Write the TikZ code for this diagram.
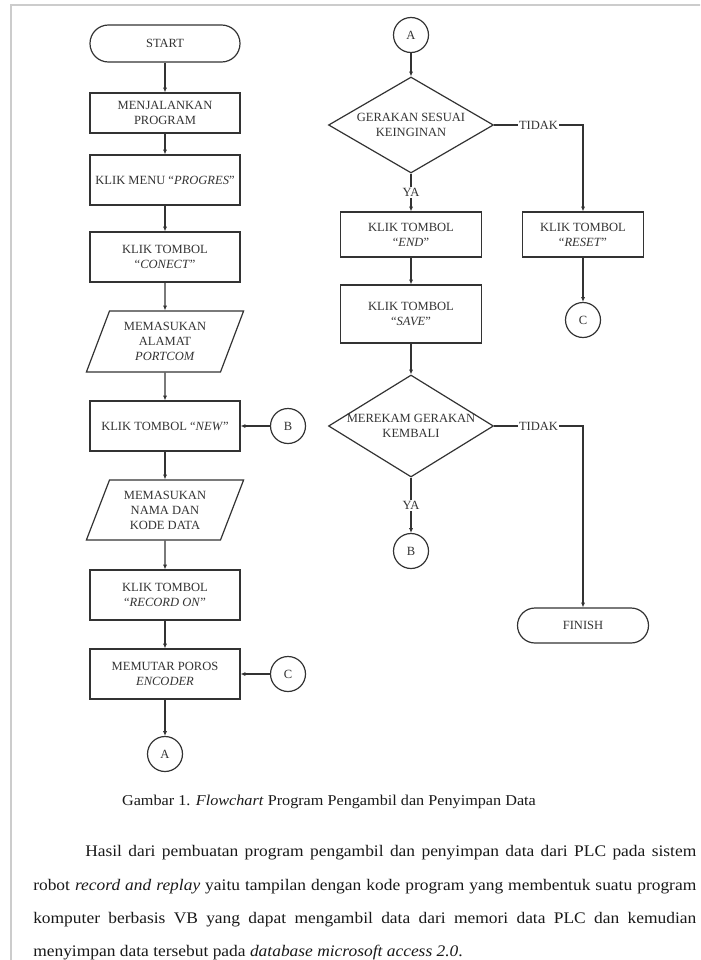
\documentclass[tikz,border=0pt]{standalone}
\usepackage{fontspec}
\setmainfont{Liberation Serif}
\newfontfamily\parafont[FakeStretch=1.08]{Liberation Serif}
\usetikzlibrary{shapes.geometric,arrows.meta}
\begin{document}
\begin{tikzpicture}[x=0.75pt,y=-0.75pt,
  every node/.style={font=\fontsize{9.4pt}{11.25pt}\selectfont, text=black!80},
  ln/.style={draw=black!80, line width=0.9pt},
  proc/.style={ln, rectangle, minimum width=112.5pt, minimum height=37.5pt, align=center, inner sep=1pt},
  term/.style={ln, rectangle, rounded corners=13.8pt, minimum width=112.5pt, minimum height=27.75pt, inner sep=1pt},
  io/.style={ln, trapezium, trapezium left angle=66, trapezium right angle=114, trapezium stretches=true, minimum width=118.5pt, minimum height=45.75pt, align=center, inner sep=0pt},
  conn/.style={ln, circle, minimum size=26.25pt, inner sep=0pt},
  dec/.style={ln, diamond, minimum width=123.75pt, minimum height=72pt, inner sep=0pt},
  arr/.style={ln, -{Latex[length=3.5pt,width=3pt]}},
  lbl/.style={fill=white, inner sep=1pt},
  para/.style={font=\parafont\fontsize{12.1pt}{15pt}\selectfont, text=black!90, inner sep=0pt, anchor=base west},
]
\useasboundingbox (0,0) rectangle (700,960);
\fill[white] (0,0) rectangle (700,960);
\clip (0,0) rectangle (700,960);
\draw[gray!40, line width=1.5pt] (11,962) -- (11,5) -- (702,5);

% left column
\node[term] (start) at (165,43.5) {START};
\node[proc, minimum height=30pt] (m1) at (165,113) {MENJALANKAN\\PROGRAM};
\node[proc] (m2) at (165,180) {KLIK MENU “\textit{PROGRES}”};
\node[proc] (m3) at (165,257) {KLIK TOMBOL\\“\textit{CONECT}”};
\node[io] (p1) at (165,341.5) {MEMASUKAN\\ALAMAT\\\textit{PORTCOM}};
\node[proc] (m4) at (165,426) {KLIK TOMBOL “\textit{NEW}”};
\node[io, minimum height=45pt] (p2) at (165,510) {MEMASUKAN\\NAMA DAN\\KODE DATA};
\node[proc] (m5) at (165,595) {KLIK TOMBOL\\“\textit{RECORD ON}”};
\node[proc] (m6) at (165,674) {MEMUTAR POROS\\\textit{ENCODER}};
\node[conn] (cB1) at (288,426) {B};
\node[conn] (cC1) at (288,674) {C};
\node[conn] (cA1) at (165,754) {A};

\draw[arr] (start) -- (m1);
\draw[arr] (m1) -- (m2);
\draw[arr] (m2) -- (m3);
\draw[arr] (m3) -- (p1);
\draw[arr] (p1) -- (m4);
\draw[arr] (cB1) -- (m4);
\draw[arr] (m4) -- (p2);
\draw[arr] (p2) -- (m5);
\draw[arr] (m5) -- (m6);
\draw[arr] (cC1) -- (m6);
\draw[arr] (m6) -- (cA1);

% right column
\node[conn] (cA2) at (411,35) {A};
\node[dec, label={[align=center]center:{GERAKAN SESUAI\\KEINGINAN}}] (d1) at (411,125) {};
\node[proc, minimum width=105.75pt, minimum height=33.75pt] (endb) at (411,234.5) {KLIK TOMBOL\\“\textit{END}”};
\node[proc, minimum width=90.75pt, minimum height=33.75pt] (reset) at (583,234.5) {KLIK TOMBOL\\“\textit{RESET}”};
\node[conn] (cC2) at (583,320) {C};
\node[proc, minimum width=105.75pt, minimum height=43.5pt] (save) at (411,314) {KLIK TOMBOL\\“\textit{SAVE}”};
\node[dec, minimum height=76.5pt, label={[align=center]center:{MEREKAM GERAKAN\\KEMBALI}}] (d2) at (411,426) {};
\node[conn] (cB2) at (411,551) {B};
\node[term, minimum width=98.25pt, minimum height=26.25pt, rounded corners=13.1pt] (finish) at (583,625.5) {FINISH};

\draw[arr] (cA2) -- (d1);
\draw[arr] (d1.south) -- node[lbl]{YA} (endb.north);
\draw[arr] (d1.east) -- node[lbl]{TIDAK} (reset.north |- d1.east) -- (reset.north);
\draw[arr] (endb) -- (save);
\draw[arr] (reset) -- (cC2);
\draw[arr] (save) -- (d2);
\draw[arr] (d2.south) -- node[lbl]{YA} (cB2.north);
\draw[arr] (d2.east) -- node[lbl]{TIDAK} (finish.north |- d2.east) -- (finish.north);

% caption and text
\node[font=\parafont\fontsize{11.25pt}{13pt}\selectfont, text=black!90] (cap) at (329,802) {Gambar 1. \textit{Flowchart} Program Pengambil dan Penyimpan Data};
\node[para] (l1) at (85,856) {\makebox[458.25pt][s]{Hasil dari pembuatan program pengambil dan penyimpan data dari PLC pada sistem}};
\node[para] (l2) at (33,890) {\makebox[497.25pt][s]{robot \textit{record and replay} yaitu tampilan dengan kode program yang membentuk suatu program}};
\node[para] (l3) at (33,923) {\makebox[497.25pt][s]{komputer berbasis VB yang dapat mengambil data dari memori data PLC dan kemudian}};
\node[para] (l4) at (33,956) {menyimpan data tersebut pada \textit{database microsoft access 2.0}.};
\end{tikzpicture}
\end{document}
